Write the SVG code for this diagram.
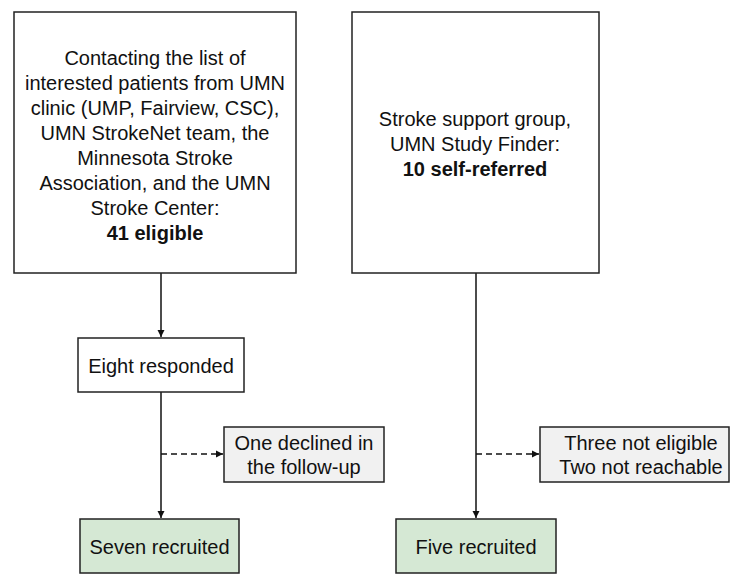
<svg xmlns="http://www.w3.org/2000/svg" width="732" height="575" viewBox="0 0 732 575">
<defs>
<style>
.box{fill:#ffffff;stroke:#222;stroke-width:1.5}
.grey{fill:#f1f1f1;stroke:#222;stroke-width:1.5}
.green{fill:#d5e8d4;stroke:#222;stroke-width:1.5}
text{font-family:"Liberation Sans",Arial,sans-serif;font-size:20px;fill:#111;text-anchor:middle}
.b{font-weight:bold}
.line{stroke:#111;stroke-width:1.5;fill:none}
.dash{stroke:#111;stroke-width:1.5;fill:none;stroke-dasharray:6,4}
</style>
<marker id="arr" markerWidth="8" markerHeight="8" refX="7" refY="4" orient="auto" markerUnits="userSpaceOnUse">
<path d="M0,0.5 L7,4 L0,7.5 Z" fill="#111"/>
</marker>
</defs>
<rect width="732" height="575" fill="#ffffff"/>
<g id="connectors">
<line class="line" x1="161" y1="273" x2="161" y2="337" marker-end="url(#arr)"/>
<line class="line" x1="161" y1="392" x2="161" y2="518" marker-end="url(#arr)"/>
<line class="dash" x1="161" y1="454" x2="223" y2="454" marker-end="url(#arr)"/>
<line class="line" x1="476" y1="273" x2="476" y2="518" marker-end="url(#arr)"/>
<line class="dash" x1="476" y1="454" x2="539" y2="454" marker-end="url(#arr)"/>
</g>
<g id="n1">
<rect class="box" x="14" y="12" width="282" height="261"/>
<text x="155" y="65">Contacting the list of</text>
<text x="155" y="90">interested patients from UMN</text>
<text x="155" y="115">clinic (UMP, Fairview, CSC),</text>
<text x="155" y="140">UMN StrokeNet team, the</text>
<text x="155" y="165">Minnesota Stroke</text>
<text x="155" y="190">Association, and the UMN</text>
<text x="155" y="215">Stroke Center:</text>
<text x="155" y="240" class="b">41 eligible</text>
</g>
<g id="n2">
<rect class="box" x="352" y="12" width="247" height="261"/>
<text x="475" y="126">Stroke support group,</text>
<text x="475" y="151">UMN Study Finder:</text>
<text x="475" y="176" class="b">10 self-referred</text>
</g>
<g id="n3">
<rect class="box" x="78" y="338" width="166" height="54"/>
<text x="161" y="373">Eight responded</text>
</g>
<g id="n4">
<rect class="grey" x="224" y="427" width="160" height="55"/>
<text x="304" y="450">One declined in</text>
<text x="304" y="474">the follow-up</text>
</g>
<g id="n5">
<rect class="green" x="80" y="519" width="159" height="54"/>
<text x="159.5" y="554">Seven recruited</text>
</g>
<g id="n6">
<rect class="grey" x="540" y="427" width="189" height="55"/>
<text x="641" y="450">Three not eligible</text>
<text x="641" y="474">Two not reachable</text>
</g>
<g id="n7">
<rect class="green" x="396" y="519" width="160" height="54"/>
<text x="476" y="554">Five recruited</text>
</g>
</svg>
